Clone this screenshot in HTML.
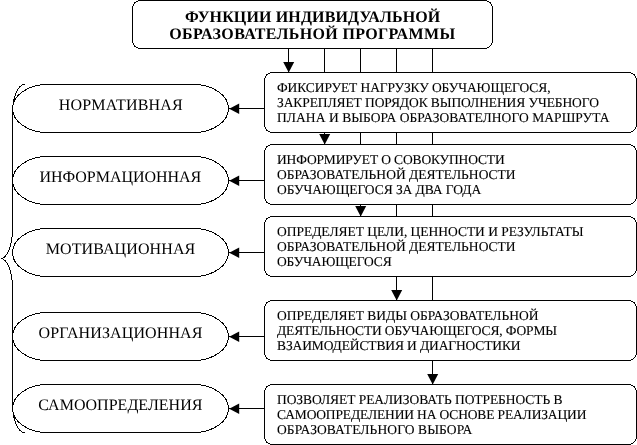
<!DOCTYPE html>
<html lang="ru"><head><meta charset="utf-8"><title>Функции индивидуальной образовательной программы</title>
<style>html,body{margin:0;padding:0;background:#fff;}body{width:637px;height:445px;overflow:hidden;font-family:"Liberation Serif",serif;}svg{display:block;position:absolute;left:0;top:0;will-change:transform;opacity:0.999;}text{font-family:"Liberation Serif",serif;fill:#000;text-rendering:geometricPrecision;}</style></head><body>
<svg width="637" height="445" viewBox="0 0 637 445">
<rect x="0" y="0" width="637" height="445" fill="#fff"/>
<g fill="none" stroke="#000" stroke-width="1" shape-rendering="crispEdges">
<rect x="132.5" y="0.5" width="360" height="48" rx="8" ry="8" fill="#fff"/>
<line x1="288.5" y1="48.5" x2="288.5" y2="72.5"/>
<line x1="324.5" y1="48.5" x2="324.5" y2="72.5"/>
<line x1="324.5" y1="132.5" x2="324.5" y2="144.5"/>
<line x1="360.5" y1="48.5" x2="360.5" y2="72.5"/>
<line x1="360.5" y1="132.5" x2="360.5" y2="144.5"/>
<line x1="360.5" y1="204.5" x2="360.5" y2="216.5"/>
<line x1="396.5" y1="48.5" x2="396.5" y2="72.5"/>
<line x1="396.5" y1="132.5" x2="396.5" y2="144.5"/>
<line x1="396.5" y1="204.5" x2="396.5" y2="216.5"/>
<line x1="396.5" y1="276.5" x2="396.5" y2="300.5"/>
<line x1="432.5" y1="48.5" x2="432.5" y2="72.5"/>
<line x1="432.5" y1="132.5" x2="432.5" y2="144.5"/>
<line x1="432.5" y1="204.5" x2="432.5" y2="216.5"/>
<line x1="432.5" y1="276.5" x2="432.5" y2="300.5"/>
<line x1="432.5" y1="360.5" x2="432.5" y2="384.5"/>
<rect x="264.5" y="72.5" width="372" height="60" rx="8" ry="8" fill="#fff"/>
<rect x="264.5" y="144.5" width="372" height="60" rx="8" ry="8" fill="#fff"/>
<rect x="264.5" y="216.5" width="372" height="60" rx="8" ry="8" fill="#fff"/>
<rect x="264.5" y="300.5" width="372" height="60" rx="8" ry="8" fill="#fff"/>
<rect x="264.5" y="384.5" width="372" height="60" rx="8" ry="8" fill="#fff"/>
<rect x="12.5" y="84.5" width="216" height="48" rx="35" ry="24" fill="#fff"/>
<rect x="12.5" y="156.5" width="216" height="48" rx="35" ry="24" fill="#fff"/>
<rect x="12.5" y="228.5" width="216" height="48" rx="35" ry="24" fill="#fff"/>
<rect x="12.5" y="312.5" width="216" height="48" rx="35" ry="24" fill="#fff"/>
<rect x="12.5" y="384.5" width="216" height="48" rx="35" ry="24" fill="#fff"/>
<line x1="229" y1="108.5" x2="264.5" y2="108.5"/>
<line x1="229" y1="180.5" x2="264.5" y2="180.5"/>
<line x1="229" y1="252.5" x2="264.5" y2="252.5"/>
<line x1="229" y1="336.5" x2="264.5" y2="336.5"/>
<line x1="229" y1="408.5" x2="264.5" y2="408.5"/>
<path d="M24.5 84.5 A12 29 0 0 0 12.5 113.5 L12.5 229.5 A12 29 0 0 1 0.5 258.5 A12 29 0 0 1 12.5 287.5 L12.5 403.5 A12 29 0 0 0 24.5 432.5"/>
</g>
<g fill="#000" stroke="none">
<path d="M283.2 62 L294.2 62 L288.7 72.5 Z"/>
<path d="M319.2 134 L330.2 134 L324.7 144.5 Z"/>
<path d="M355.2 206 L366.2 206 L360.7 216.5 Z"/>
<path d="M391.2 290 L402.2 290 L396.7 300.5 Z"/>
<path d="M427.2 374 L438.2 374 L432.7 384.5 Z"/>
<path d="M229.2 108.7 L239.2 103.6 L239.2 114.0 Z"/>
<path d="M229.2 180.7 L239.2 175.6 L239.2 186.0 Z"/>
<path d="M229.2 252.7 L239.2 247.6 L239.2 258.0 Z"/>
<path d="M229.2 336.7 L239.2 331.6 L239.2 342.0 Z"/>
<path d="M229.2 408.7 L239.2 403.6 L239.2 414.0 Z"/>
</g>
<g font-size="16" font-weight="bold">
<text x="185" y="21.7" textLength="255.3" lengthAdjust="spacing">ФУНКЦИИ ИНДИВИДУАЛЬНОЙ</text>
<text x="169.3" y="39.3" textLength="285.8" lengthAdjust="spacing">ОБРАЗОВАТЕЛЬНОЙ ПРОГРАММЫ</text>
</g>
<g font-size="16">
<text x="58.7" y="110" textLength="123.9" lengthAdjust="spacing">НОРМАТИВНАЯ</text>
<text x="39.5" y="182" textLength="161.7" lengthAdjust="spacing">ИНФОРМАЦИОННАЯ</text>
<text x="45.7" y="254" textLength="149.5" lengthAdjust="spacing">МОТИВАЦИОННАЯ</text>
<text x="38.6" y="338" textLength="163.8" lengthAdjust="spacing">ОРГАНИЗАЦИОННАЯ</text>
<text x="38.2" y="410" textLength="164.2" lengthAdjust="spacing">САМООПРЕДЕЛЕНИЯ</text>
</g>
<g font-size="13.5" stroke="#000" stroke-width="0.1">
<text transform="translate(277.0 91.9) scale(1 1)" textLength="273.5" lengthAdjust="spacing">ФИКСИРУЕТ НАГРУЗКУ ОБУЧАЮЩЕГОСЯ,</text>
<text transform="translate(277.0 106.9) scale(1 1)" textLength="321.9" lengthAdjust="spacing">ЗАКРЕПЛЯЕТ ПОРЯДОК ВЫПОЛНЕНИЯ УЧЕБНОГО</text>
<text transform="translate(277.0 121.9) scale(1 1)" textLength="332.6" lengthAdjust="spacing">ПЛАНА И ВЫБОРА ОБРАЗОВАТЕЛНОГО МАРШРУТА</text>
<text transform="translate(277.0 163.9) scale(1 1)" textLength="227.7" lengthAdjust="spacing">ИНФОРМИРУЕТ О СОВОКУПНОСТИ</text>
<text transform="translate(277.0 178.9) scale(1 1)" textLength="238.6" lengthAdjust="spacing">ОБРАЗОВАТЕЛЬНОЙ ДЕЯТЕЛЬНОСТИ</text>
<text transform="translate(277.0 193.9) scale(1 1)" textLength="204.2" lengthAdjust="spacing">ОБУЧАЮЩЕГОСЯ ЗА ДВА ГОДА</text>
<text transform="translate(277.0 235.9) scale(1 1)" textLength="306.5" lengthAdjust="spacing">ОПРЕДЕЛЯЕТ ЦЕЛИ, ЦЕННОСТИ И РЕЗУЛЬТАТЫ</text>
<text transform="translate(277.0 250.9) scale(1 1)" textLength="238.6" lengthAdjust="spacing">ОБРАЗОВАТЕЛЬНОЙ ДЕЯТЕЛЬНОСТИ</text>
<text transform="translate(277.0 265.9) scale(1 1)" textLength="114.7" lengthAdjust="spacing">ОБУЧАЮЩЕГОСЯ</text>
<text transform="translate(277.0 319.9) scale(1 1)" textLength="261.4" lengthAdjust="spacing">ОПРЕДЕЛЯЕТ ВИДЫ ОБРАЗОВАТЕЛЬНОЙ</text>
<text transform="translate(277.0 334.9) scale(1 1)" textLength="280.1" lengthAdjust="spacing">ДЕЯТЕЛЬНОСТИ ОБУЧАЮЩЕГОСЯ, ФОРМЫ</text>
<text transform="translate(277.0 349.9) scale(1 1)" textLength="243.6" lengthAdjust="spacing">ВЗАИМОДЕЙСТВИЯ И ДИАГНОСТИКИ</text>
<text transform="translate(277.0 403.9) scale(1 1)" textLength="285.5" lengthAdjust="spacing">ПОЗВОЛЯЕТ РЕАЛИЗОВАТЬ ПОТРЕБНОСТЬ В</text>
<text transform="translate(277.0 418.9) scale(1 1)" textLength="309.4" lengthAdjust="spacing">САМООПРЕДЕЛЕНИИ НА ОСНОВЕ РЕАЛИЗАЦИИ</text>
<text transform="translate(277.0 433.9) scale(1 1)" textLength="195.3" lengthAdjust="spacing">ОБРАЗОВАТЕЛЬНОГО ВЫБОРА</text>
</g>
</svg></body></html>
